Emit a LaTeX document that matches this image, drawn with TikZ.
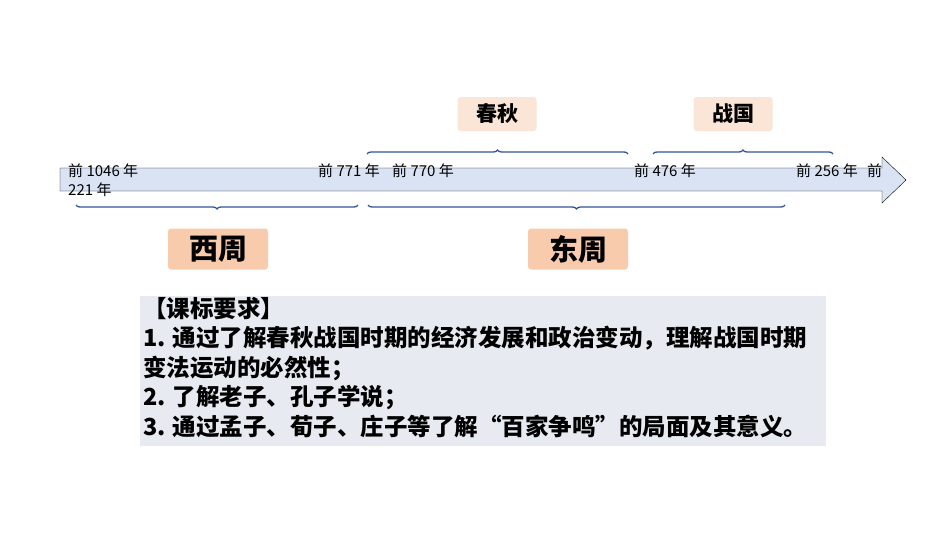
\documentclass[tikz,border=0pt]{standalone}
\usepackage{fontspec}
\newfontfamily\cjk{Noto Sans CJK SC}
\usetikzlibrary{decorations.pathreplacing,shapes.arrows}
\definecolor{tlfill}{HTML}{DAE3F3}
\definecolor{brccol}{HTML}{2F5597}
\definecolor{reqfill}{HTML}{E7EAF0}
\definecolor{erafill}{HTML}{FBE5D6}
\definecolor{dynfill}{HTML}{F8CBAD}
\begin{document}
\begin{tikzpicture}[x=1pt,y=-1pt,
  yearlbl/.style={anchor=west,inner sep=0,font=\cjk\fontsize{15}{16}\selectfont},
  brc/.style={draw=brccol,line width=1.3pt,decorate,decoration={brace,amplitude=4pt}},
  eralbl/.style={fill=erafill,rounded corners=3pt,minimum width=79,minimum height=34,font=\cjk\fontsize{21}{22}\selectfont\bfseries},
  dynlbl/.style={fill=dynfill,rounded corners=3pt,minimum width=100,minimum height=41,font=\cjk\fontsize{29}{30}\selectfont\bfseries}]
 \useasboundingbox (0,0) rectangle (950,535);
 % timeline arrow
 \draw[fill=tlfill] (60,168) -- (882,168) -- (882,157) -- (906,180) -- (882,203) -- (882,191) -- (60,191) -- cycle;
 \node[yearlbl] (y1) at (68,171) {前 1046 年};
 \node[yearlbl] (y0) at (68,190) {221 年};
 \node[yearlbl] (y2) at (318,171) {前 771 年};
 \node[yearlbl] (y3) at (392,171) {前 770 年};
 \node[yearlbl] (y4) at (634,171) {前 476 年};
 \node[yearlbl] (y5) at (796,171) {前 256 年};
 \node[yearlbl] (y6) at (867,171) {前};
 % braces
 \draw[brc] (367,154) -- (628,154);
 \draw[brc] (653,154) -- (833,154);
 \draw[brc] (358,205) -- (76,205);
 \draw[brc] (785,205) -- (368,205);
 % era labels
 \node[eralbl] (cq) at (497,114) {春秋};
 \node[eralbl] (zg) at (733,114) {战国};
 \node[dynlbl] (xz) at (218,249) {西周};
 \node[dynlbl] (dz) at (578,249) {东周};
 % requirements
 \fill[reqfill] (140,296) rectangle (826,446);
 \node[anchor=north west,align=left,inner sep=0,font=\cjk\fontsize{23.5}{29.5}\selectfont\bfseries] (req) at (143,297)
  {【课标要求】\\1. 通过了解春秋战国时期的经济发展和政治变动，理解战国时期\\变法运动的必然性；\\2. 了解老子、孔子学说；\\3. 通过孟子、荀子、庄子等了解“百家争鸣”的局面及其意义。};
\end{tikzpicture}
\end{document}
